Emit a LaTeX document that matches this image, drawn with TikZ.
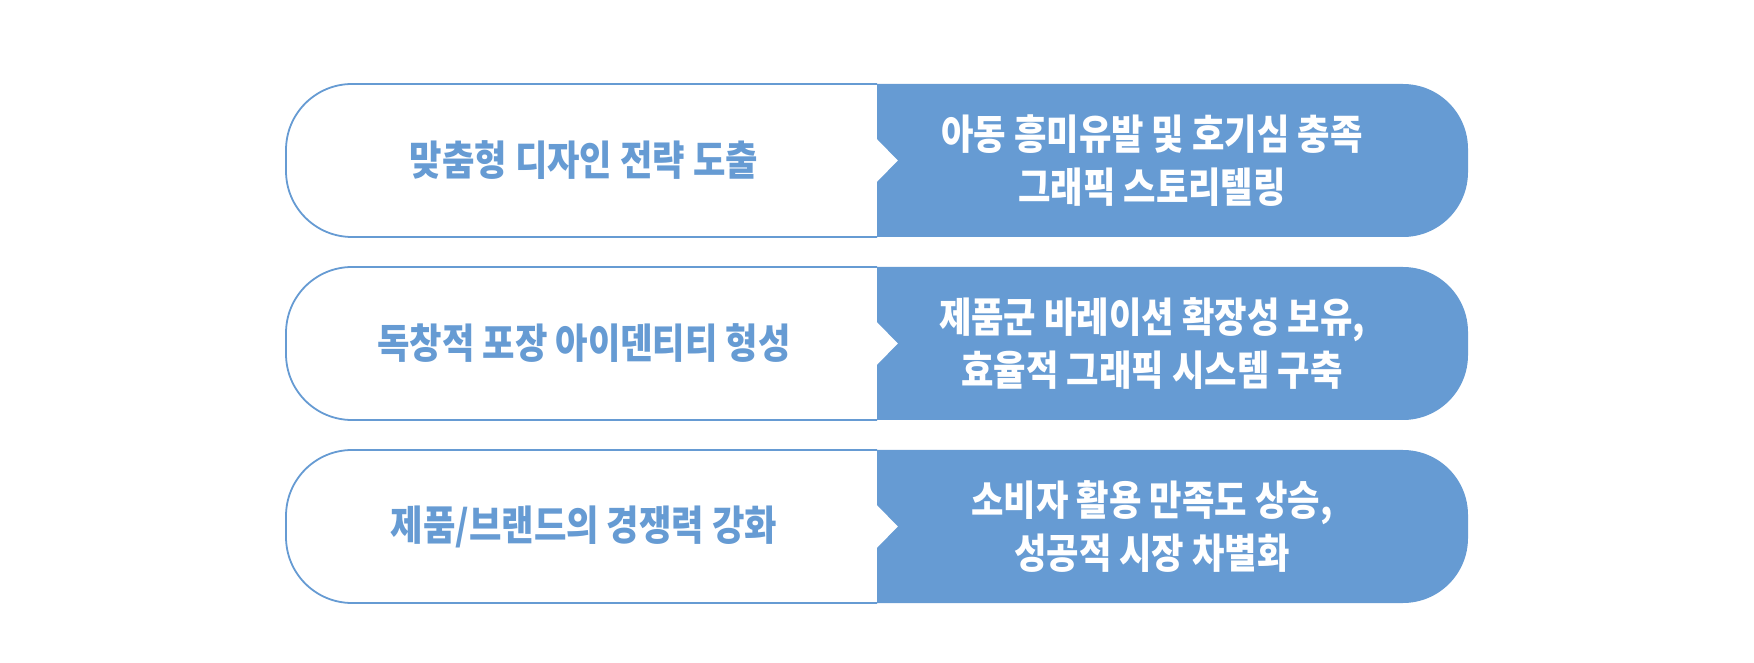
\documentclass[tikz,border=0pt]{standalone}
\usepackage{fontspec}
\newfontfamily\kofont[FakeStretch=0.86]{Noto Sans CJK KR}
\usepackage{tikz}
\usetikzlibrary{positioning}
\definecolor{boxblue}{RGB}{102,155,211}

\begin{document}
\begin{tikzpicture}[
		x=1pt, y=1pt,
		outline/.style={draw=boxblue, line width=1.8pt, fill=white},
		tab/.style={fill=boxblue},
		lefttext/.style={text=boxblue, font={\kofont\bfseries\fontsize{41}{53}\selectfont}},
		righttext/.style={text=white, align=center, font={\kofont\bfseries\fontsize{41}{53}\selectfont}}
		]
		
		\useasboundingbox (0,0) rectangle (1754,662);
		
		% === ROW 1 ===
		\begin{scope}[yshift=366pt]
			\draw[outline] (877,212) -- (352,212) arc[start angle=90, end angle=180, radius=66]
			-- (286,125) arc[start angle=180, end angle=270, radius=66] -- (877,59);
			\fill[tab] (877,212) -- (1403,212) arc[start angle=90, end angle=0, radius=65]
			-- (1468,124) arc[start angle=0, end angle=-90, radius=65] -- (877,59)
			-- (877,114) -- (898,135.5) -- (877,157) -- cycle;
		\end{scope}
		\node[lefttext] (strategy) at (584,501.5) {맞춤형 디자인 전략 도출};
		\node[righttext] (storytelling) at (1152,501.5) {아동 흥미유발 및 호기심 충족\\그래픽 스토리텔링};
		
		% === ROW 2 ===
		\begin{scope}[yshift=183pt]
			\draw[outline] (877,212) -- (352,212) arc[start angle=90, end angle=180, radius=66]
			-- (286,125) arc[start angle=180, end angle=270, radius=66] -- (877,59);
			\fill[tab] (877,212) -- (1403,212) arc[start angle=90, end angle=0, radius=65]
			-- (1468,124) arc[start angle=0, end angle=-90, radius=65] -- (877,59)
			-- (877,114) -- (898,135.5) -- (877,157) -- cycle;
		\end{scope}
		\node[lefttext] (identity) at (584,318.5) {독창적 포장 아이덴티티 형성};
		\node[righttext] (system) at (1152,318.5) {제품군 바레이션 확장성 보유,\\효율적 그래픽 시스템 구축};
		
		% === ROW 3 ===
		\draw[outline] (877,212) -- (352,212) arc[start angle=90, end angle=180, radius=66]
		-- (286,125) arc[start angle=180, end angle=270, radius=66] -- (877,59);
		\fill[tab] (877,212) -- (1403,212) arc[start angle=90, end angle=0, radius=65]
		-- (1468,124) arc[start angle=0, end angle=-90, radius=65] -- (877,59)
		-- (877,114) -- (898,135.5) -- (877,157) -- cycle;
		\node[lefttext] (competitiveness) at (584,135.5) {제품/브랜드의 경쟁력 강화};
		\node[righttext] (differentiation) at (1152,135.5) {소비자 활용 만족도 상승,\\성공적 시장 차별화};
		
	\end{tikzpicture}
\end{document}
